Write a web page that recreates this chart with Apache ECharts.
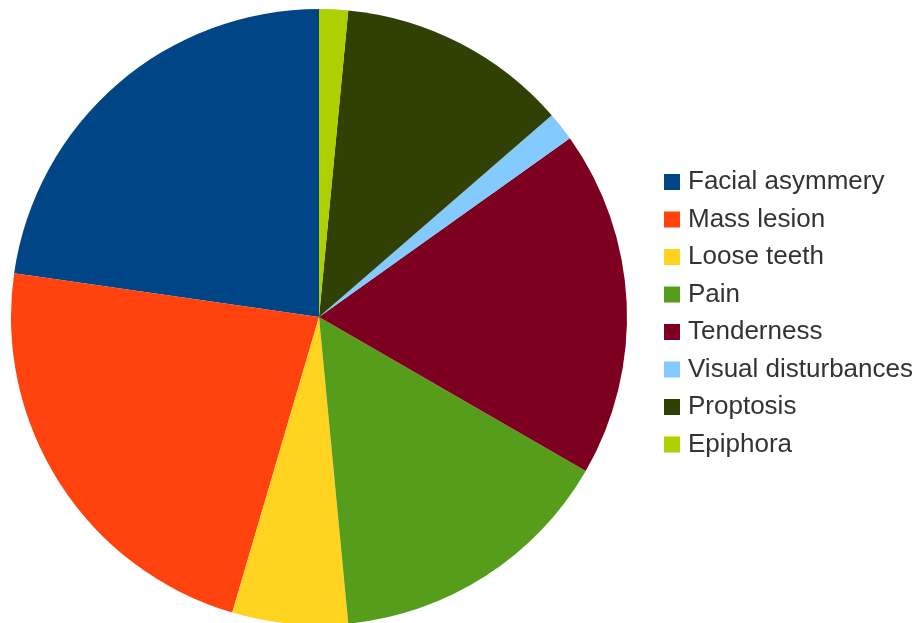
<!DOCTYPE html>
<html>
<head>
<meta charset="utf-8">
<script src="https://cdn.jsdelivr.net/npm/echarts@6/dist/echarts.min.js"></script>
<style>
  html, body { margin: 0; padding: 0; background: #fff; }
  #chart { width: 917px; height: 623px; }
</style>
</head>
<body>
<div id="chart"></div>
<script>
// Presenting symptoms, counts per category
const categories = ['Facial asymmery', 'Mass lesion', 'Loose teeth', 'Pain', 'Tenderness', 'Visual disturbances', 'Proptosis', 'Epiphora'];
const counts = [15, 15, 4, 10, 12, 1, 8, 1];
const colors = ['#004586', '#ff420e', '#ffd320', '#579d1c', '#7e0021', '#83caff', '#314004', '#aecf00'];

const chart = echarts.init(document.getElementById('chart'), null, { renderer: 'canvas' });
chart.setOption({
  animation: false,
  color: colors,
  legend: {
    orient: 'vertical',
    left: 659,
    top: 164,
    itemWidth: 16,
    itemHeight: 16,
    itemGap: 11.5,
    icon: 'rect',
    textStyle: {
      fontFamily: 'Liberation Sans',
      fontSize: 26,
      lineHeight: 26,
      color: '#333333',
      padding: [0, 0, 0, 3]
    },
    data: categories
  },
  series: [{
    type: 'pie',
    center: [319, 317],
    radius: [0, 308],
    startAngle: 90,
    clockwise: false,
    label: { show: false },
    labelLine: { show: false },
    itemStyle: { borderWidth: 0 },
    emphasis: { disabled: true },
    data: categories.map((name, i) => ({ name: name, value: counts[i] }))
  }]
});
</script>
</body>
</html>
